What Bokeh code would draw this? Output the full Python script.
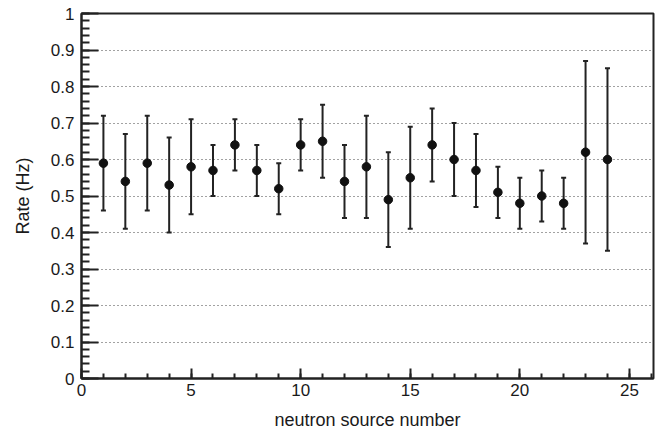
from bokeh.plotting import figure
from bokeh.models import ColumnDataSource, FixedTicker, Whisker, TeeHead
from bokeh.embed import file_html
from bokeh.resources import INLINE

source_number = list(range(1, 25))
rate = [0.59, 0.54, 0.59, 0.53, 0.58, 0.57, 0.64, 0.57, 0.52, 0.64, 0.65, 0.54,
        0.58, 0.49, 0.55, 0.64, 0.60, 0.57, 0.51, 0.48, 0.50, 0.48, 0.62, 0.60]
rate_err = [0.13, 0.13, 0.13, 0.13, 0.13, 0.07, 0.07, 0.07, 0.07, 0.07, 0.10, 0.10,
            0.14, 0.13, 0.14, 0.10, 0.10, 0.10, 0.07, 0.07, 0.07, 0.07, 0.25, 0.25]

y_ticks = [0, 0.1, 0.2, 0.3, 0.4, 0.5, 0.6, 0.7, 0.8, 0.9, 1]
y_tick_labels = ["0", "0.1", "0.2", "0.3", "0.4", "0.5", "0.6", "0.7", "0.8", "0.9", "1"]
y_minor = [i / 50 for i in range(0, 51)]
x_ticks = [0, 5, 10, 15, 20, 25]
x_minor = list(range(0, 27))

FONT = "Liberation Sans"

src = ColumnDataSource(dict(
    x=source_number, y=rate,
    lo=[r - e for r, e in zip(rate, rate_err)],
    hi=[r + e for r, e in zip(rate, rate_err)],
))

p = figure(width=665, height=433, x_range=(0, 26.1), y_range=(0, 1),
           output_backend="svg", toolbar_location=None,
           min_border_left=81, min_border_right=12, min_border_top=13, min_border_bottom=55)
p.background_fill_color = "white"
p.border_fill_color = "white"
p.outline_line_color = "#222222"
p.outline_line_width = 2

p.xgrid.visible = False
p.ygrid.ticker = FixedTicker(ticks=y_ticks)
p.ygrid.grid_line_color = "#444444"
p.ygrid.grid_line_dash = "1 3"
p.ygrid.grid_line_width = 1

p.yaxis.ticker = FixedTicker(ticks=y_ticks, minor_ticks=y_minor)
p.yaxis.major_label_overrides = {t: l for t, l in zip(y_ticks, y_tick_labels)}
p.xaxis.ticker = FixedTicker(ticks=x_ticks, minor_ticks=x_minor)

for ax in (p.xaxis[0], p.yaxis[0]):
    ax.axis_line_width = 2
    ax.axis_line_color = "#222222"
    ax.major_tick_line_color = "#222222"
    ax.minor_tick_line_color = "#222222"
    ax.major_tick_line_width = 2
    ax.minor_tick_line_width = 2
    ax.major_tick_out = 0
    ax.minor_tick_out = 0
    ax.major_label_text_font = FONT
    ax.major_label_text_font_size = "17px"
    ax.major_label_text_color = "#1a1a1a"
    ax.axis_label_text_font = FONT
    ax.axis_label_text_font_size = "18px"
    ax.axis_label_text_font_style = "normal"
    ax.axis_label_text_color = "#1a1a1a"

p.yaxis.major_tick_in = 17
p.yaxis.minor_tick_in = 8
p.xaxis.major_tick_in = 10
p.xaxis.minor_tick_in = 5
p.yaxis.major_label_standoff = 7
p.xaxis.major_label_standoff = 5
p.yaxis.axis_label = "Rate (Hz)"
p.xaxis.axis_label = "neutron source number"
p.yaxis.axis_label_standoff = 15
p.xaxis.axis_label_standoff = 11

w = Whisker(source=src, base="x", lower="lo", upper="hi", dimension="height",
            line_color="#222222", line_width=2,
            lower_head=TeeHead(size=5, line_color="#222222", line_width=2),
            upper_head=TeeHead(size=5, line_color="#222222", line_width=2))
p.add_layout(w)
p.scatter("x", "y", source=src, size=8.5, color="#111111")

open("out.html", "w").write(file_html(p, INLINE))
